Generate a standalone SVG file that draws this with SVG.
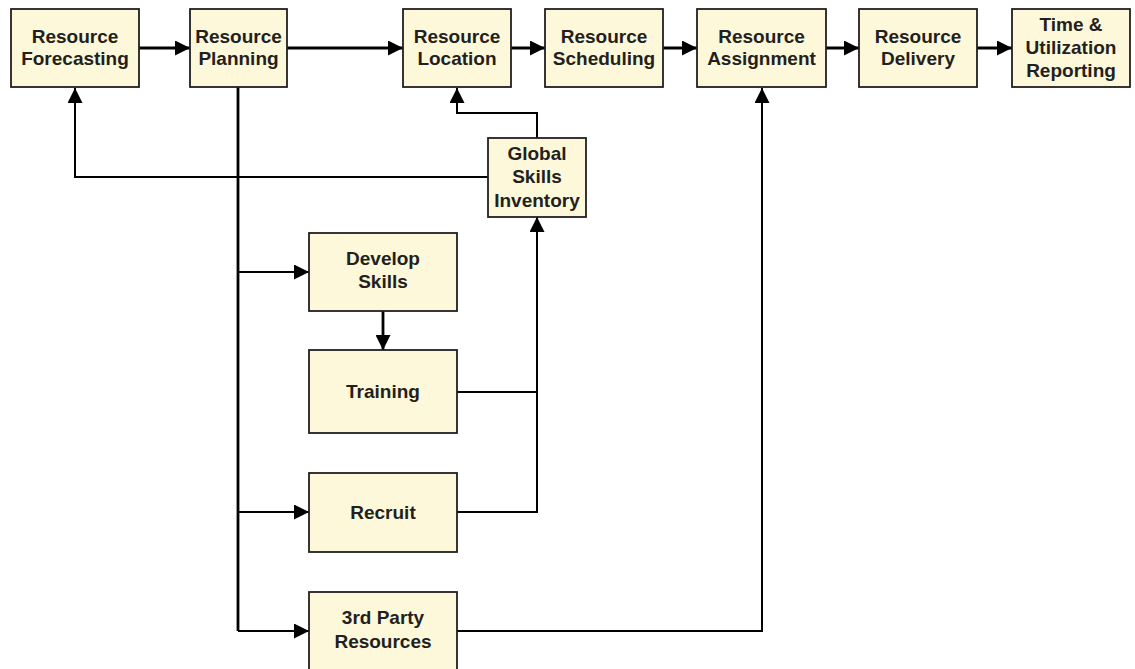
<svg xmlns="http://www.w3.org/2000/svg" width="1135" height="669" viewBox="0 0 1135 669">
<defs>
<marker id="ah" markerUnits="userSpaceOnUse" markerWidth="16" markerHeight="15" refX="15" refY="7.5" orient="auto">
<path d="M0,0 L15,7.5 L0,15 Z" fill="#000"/>
</marker>
<style>
.box{fill:#fdf8d9;stroke:#231f20;stroke-width:1.8}
.t{font-family:"Liberation Sans",Arial,sans-serif;font-weight:bold;font-size:19px;fill:#231f20;text-anchor:middle}
.c{fill:none;stroke:#000;stroke-width:2.8}
.c2{fill:none;stroke:#000;stroke-width:2}
</style>
</defs>
<rect width="1135" height="669" fill="#fff"/>
<g id="connectors">
<path class="c" d="M139,48 H190" marker-end="url(#ah)"/>
<path class="c" d="M287,48 H403" marker-end="url(#ah)"/>
<path class="c" d="M511,48 H545" marker-end="url(#ah)"/>
<path class="c" d="M663,48 H697" marker-end="url(#ah)"/>
<path class="c" d="M826,48 H859" marker-end="url(#ah)"/>
<path class="c" d="M977,48 H1012" marker-end="url(#ah)"/>
<path class="c2" d="M488,177 H75 V88" marker-end="url(#ah)"/>
<path class="c2" d="M537,138 V113 H457 V88" marker-end="url(#ah)"/>
<path class="c" d="M238,87 V631"/>
<path class="c2" d="M238,272 H309" marker-end="url(#ah)"/>
<path class="c2" d="M238,512 H309" marker-end="url(#ah)"/>
<path class="c2" d="M238,631 H309" marker-end="url(#ah)"/>
<path class="c" d="M383,311 V350" marker-end="url(#ah)"/>
<path class="c2" d="M457,392 H537"/>
<path class="c2" d="M457,512 H537 V217" marker-end="url(#ah)"/>
<path class="c2" d="M457,631 H762 V88" marker-end="url(#ah)"/>
</g>
<g id="forecasting"><rect class="box" x="11" y="9" width="128" height="78"/><text class="t" x="75" y="43">Resource</text><text class="t" x="75" y="65">Forecasting</text></g>
<g id="planning"><rect class="box" x="190" y="9" width="97" height="78"/><text class="t" x="238.5" y="43">Resource</text><text class="t" x="238.5" y="65">Planning</text></g>
<g id="location"><rect class="box" x="403" y="9" width="108" height="78"/><text class="t" x="457" y="43">Resource</text><text class="t" x="457" y="65">Location</text></g>
<g id="scheduling"><rect class="box" x="545" y="9" width="118" height="78"/><text class="t" x="604" y="43">Resource</text><text class="t" x="604" y="65">Scheduling</text></g>
<g id="assignment"><rect class="box" x="697" y="9" width="129" height="78"/><text class="t" x="761.5" y="43">Resource</text><text class="t" x="761.5" y="65">Assignment</text></g>
<g id="delivery"><rect class="box" x="859" y="9" width="118" height="78"/><text class="t" x="918" y="43">Resource</text><text class="t" x="918" y="65">Delivery</text></g>
<g id="reporting"><rect class="box" x="1012" y="9" width="118" height="78"/><text class="t" x="1071" y="31">Time &amp;</text><text class="t" x="1071" y="54">Utilization</text><text class="t" x="1071" y="77">Reporting</text></g>
<g id="inventory"><rect class="box" x="488" y="138" width="98" height="79"/><text class="t" x="537" y="159.5">Global</text><text class="t" x="537" y="183">Skills</text><text class="t" x="537" y="206.5">Inventory</text></g>
<g id="develop"><rect class="box" x="309" y="233" width="148" height="78"/><text class="t" x="383" y="265">Develop</text><text class="t" x="383" y="288">Skills</text></g>
<g id="training"><rect class="box" x="309" y="350" width="148" height="83"/><text class="t" x="383" y="398">Training</text></g>
<g id="recruit"><rect class="box" x="309" y="473" width="148" height="79"/><text class="t" x="383" y="519">Recruit</text></g>
<g id="thirdparty"><rect class="box" x="309" y="592" width="148" height="85"/><text class="t" x="383" y="624">3rd Party</text><text class="t" x="383" y="648">Resources</text></g>
</svg>
